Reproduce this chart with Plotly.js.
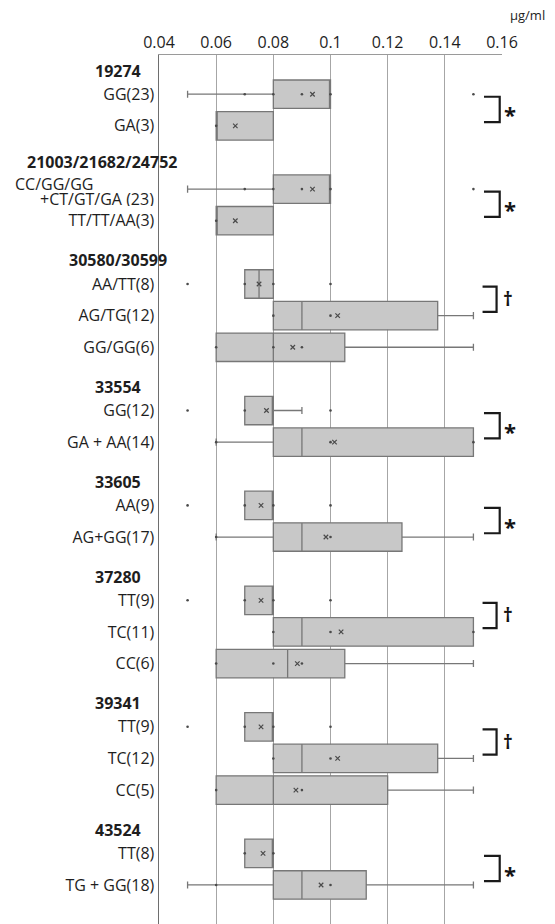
<!DOCTYPE html>
<html>
<head>
<meta charset="utf-8">
<script src="https://cdn.plot.ly/plotly-3.0.1.min.js"></script>
<style>
  html, body { margin: 0; padding: 0; background: #ffffff; }
  #chart { width: 555px; height: 924px; }
</style>
</head>
<body>
<div id="chart"></div>
<script>
// SNP groups, number of genotype rows in each, and the significance mark between the first two rows
const groupNames = ['19274', '21003/21682/24752', '30580/30599', '33554', '33605', '37280', '39341', '43524'];
const groupSizes = [2, 2, 3, 2, 2, 3, 3, 2];
const sigMarks   = ['*', '*', '\u2020', '*', '*', '\u2020', '\u2020', '*'];

// genotype rows (top to bottom)
const rowLabels = [
  'GG(23)', 'GA(3)',
  'CC/GG/GG<br>+CT/GT/GA (23)', 'TT/TT/AA(3)',
  'AA/TT(8)', 'AG/TG(12)', 'GG/GG(6)',
  'GG(12)', 'GA + AA(14)',
  'AA(9)', 'AG+GG(17)',
  'TT(9)', 'TC(11)', 'CC(6)',
  'TT(9)', 'TC(12)', 'CC(5)',
  'TT(8)', 'TG + GG(18)'
];

// box statistics, µg/ml
const lowerFence = [0.05, 0.06, 0.05, 0.06, 0.07, 0.08, 0.06, 0.07, 0.06, 0.07, 0.06, 0.07, 0.08, 0.06, 0.07, 0.08, 0.06, 0.07, 0.05];
const q1         = [0.08, 0.06, 0.08, 0.06, 0.07, 0.08, 0.06, 0.07, 0.08, 0.07, 0.08, 0.07, 0.08, 0.06, 0.07, 0.08, 0.06, 0.07, 0.08];
const medians    = [0.10, 0.06, 0.10, 0.06, 0.075, 0.09, 0.08, 0.08, 0.09, 0.08, 0.09, 0.08, 0.09, 0.085, 0.08, 0.09, 0.08, 0.08, 0.09];
const q3         = [0.10, 0.08, 0.10, 0.08, 0.08, 0.1375, 0.105, 0.08, 0.15, 0.08, 0.125, 0.08, 0.15, 0.105, 0.08, 0.1375, 0.12, 0.08, 0.1125];
const upperFence = [0.10, 0.08, 0.10, 0.08, 0.08, 0.15, 0.15, 0.09, 0.15, 0.08, 0.15, 0.08, 0.15, 0.15, 0.08, 0.15, 0.15, 0.08, 0.15];
const means      = [0.0937, 0.0667, 0.0937, 0.0667, 0.075, 0.1025, 0.0868, 0.0776, 0.1014, 0.0757, 0.0984, 0.0757, 0.1037, 0.0884, 0.0757, 0.1025, 0.0879, 0.0764, 0.0967];

// individual points (inner points and outliers)
const pointValues = [
  [0.07, 0.08, 0.09, 0.10, 0.15],
  [0.06],
  [0.07, 0.08, 0.09, 0.10, 0.15],
  [0.06],
  [0.05, 0.07, 0.08, 0.10],
  [0.08, 0.10],
  [0.06, 0.08, 0.09],
  [0.05, 0.07, 0.10],
  [0.06, 0.10, 0.15],
  [0.05, 0.07, 0.08, 0.10],
  [0.06, 0.10],
  [0.05, 0.07, 0.08, 0.10],
  [0.08, 0.10, 0.15],
  [0.06, 0.08, 0.09],
  [0.05, 0.07, 0.08, 0.10],
  [0.08, 0.10],
  [0.06, 0.09],
  [0.07, 0.08],
  [0.06, 0.10]
];

// ---- layout of the rows: each group takes one slot for its heading, then one per genotype ----
const headerSlot = [];
const firstRowOfGroup = [];
const rowSlot = [];
let slot = 0;
groupSizes.forEach(function (n) {
  headerSlot.push(slot++);
  firstRowOfGroup.push(rowSlot.length);
  for (let i = 0; i < n; i++) rowSlot.push(slot++);
});

const textColor = '#1e1e1e';
const fontFamily = '"Open Sans", "Noto Sans", sans-serif';
const labelSize = 16;

const boxTrace = {
  type: 'box',
  orientation: 'h',
  y: rowSlot,
  q1: q1,
  median: medians,
  q3: q3,
  lowerfence: lowerFence,
  upperfence: upperFence,
  width: 0.9,
  whiskerwidth: 0.25,
  boxpoints: false,
  fillcolor: '#c8c8c8',
  line: { color: '#777777', width: 1.3 },
  hoverinfo: 'skip',
  showlegend: false
};

const ptX = [], ptY = [];
pointValues.forEach(function (vals, i) {
  vals.forEach(function (v) { ptX.push(v); ptY.push(rowSlot[i]); });
});

const pointTrace = {
  type: 'scatter', mode: 'markers',
  x: ptX, y: ptY,
  marker: { symbol: 'circle', size: 2.6, color: '#4a4a4a' },
  hoverinfo: 'skip', showlegend: false, cliponaxis: false
};

const meanTrace = {
  type: 'scatter', mode: 'markers',
  x: means, y: rowSlot,
  marker: { symbol: 'x-thin', size: 4.5, color: '#4a4a4a', line: { color: '#4a4a4a', width: 1.2 } },
  hoverinfo: 'skip', showlegend: false
};

// ---- tick labels and annotations ----
const tickVals = [], tickText = [];
const annotations = [];

rowLabels.forEach(function (lab, i) {
  if (lab.indexOf('<br>') >= 0) {
    // two-line genotype label: first line flush left, second line flush against the axis
    const parts = lab.split('<br>');
    tickVals.push(rowSlot[i]); tickText.push('');
    annotations.push({
      xref: 'paper', yref: 'y', x: -0.425, y: rowSlot[i], yshift: 6,
      xanchor: 'left', yanchor: 'middle', showarrow: false, text: parts[0],
      height: 15,
      font: { family: fontFamily, size: labelSize, color: textColor }
    });
    annotations.push({
      xref: 'paper', yref: 'y', x: -0.009, y: rowSlot[i], yshift: -9,
      xanchor: 'right', yanchor: 'middle', showarrow: false, text: parts[1],
      height: 15,
      font: { family: fontFamily, size: labelSize, color: textColor }
    });
  } else {
    tickVals.push(rowSlot[i]); tickText.push(lab);
  }
});

groupNames.forEach(function (name, g) {
  const long = name.length > 12;
  annotations.push({
    xref: 'paper', yref: 'y',
    x: long ? -0.167 : -0.1206,
    y: headerSlot[g], yshift: long ? -5 : -8,
    xanchor: 'center', yanchor: 'middle', showarrow: false,
    text: '<b>' + name + '</b>',
    height: long ? 16 : null,
    font: { family: fontFamily, size: labelSize, color: textColor }
  });
});

// significance brackets between the first two genotypes of each group
const shapes = [];
sigMarks.forEach(function (mark, g) {
  const a = rowSlot[firstRowOfGroup[g]];
  const b = rowSlot[firstRowOfGroup[g] + 1];
  const dagger = mark !== '*';
  const xL = dagger ? 0.1532 : 0.1537;
  const xR = dagger ? 0.1581 : 0.1592;
  const y0 = a + 0.08, y1 = b - 0.12;
  shapes.push({
    type: 'path', xref: 'x', yref: 'y',
    path: 'M ' + xL + ',' + y0 + ' H ' + xR + ' V ' + y1 + ' H ' + xL,
    line: { color: '#1a1a1a', width: 2.2 }
  });
  annotations.push({
    xref: 'paper', yref: 'y', x: dagger ? 0.998 : 1.0, y: (y0 + y1) / 2,
    yshift: dagger ? 0 : -5,
    xanchor: 'left', yanchor: 'middle', showarrow: false,
    text: '<b>' + mark + '</b>',
    font: { family: fontFamily, size: dagger ? 19 : 22, color: '#141414' }
  });
});

annotations.push({
  xref: 'paper', yref: 'paper', x: 1.132, y: 1.046,
  xanchor: 'right', yanchor: 'middle', showarrow: false,
  text: '\u00b5g/ml',
  font: { family: fontFamily, size: 13, color: textColor }
});

const layout = {
  width: 555, height: 924,
  margin: { l: 158.5, r: 52.5, t: 55, b: 0, pad: 0 },
  paper_bgcolor: '#ffffff', plot_bgcolor: '#ffffff',
  font: { family: fontFamily, size: labelSize, color: textColor },
  xaxis: {
    side: 'top',
    range: [0.04, 0.16],
    tickvals: [0.04, 0.06, 0.08, 0.1, 0.12, 0.14, 0.16],
    ticktext: ['0.04', '0.06', '0.08', '0.1', '0.12', '0.14', '0.16'],
    ticks: '',
    showgrid: true, gridcolor: '#a6a6a6', gridwidth: 1,
    showline: true, linecolor: '#9a9a9a', linewidth: 1,
    zeroline: false,
    tickfont: { family: fontFamily, size: labelSize, color: textColor }
  },
  yaxis: {
    range: [27.234, -0.240],
    tickvals: tickVals,
    ticktext: tickText,
    ticks: '',
    showgrid: false,
    showline: true, linecolor: '#6e6e6e', linewidth: 1.5,
    zeroline: false,
    tickfont: { family: fontFamily, size: labelSize, color: textColor }
  },
  shapes: shapes,
  annotations: annotations
};

Plotly.newPlot('chart', [boxTrace, pointTrace, meanTrace], layout, { staticPlot: true, displayModeBar: false });
</script>
</body>
</html>
